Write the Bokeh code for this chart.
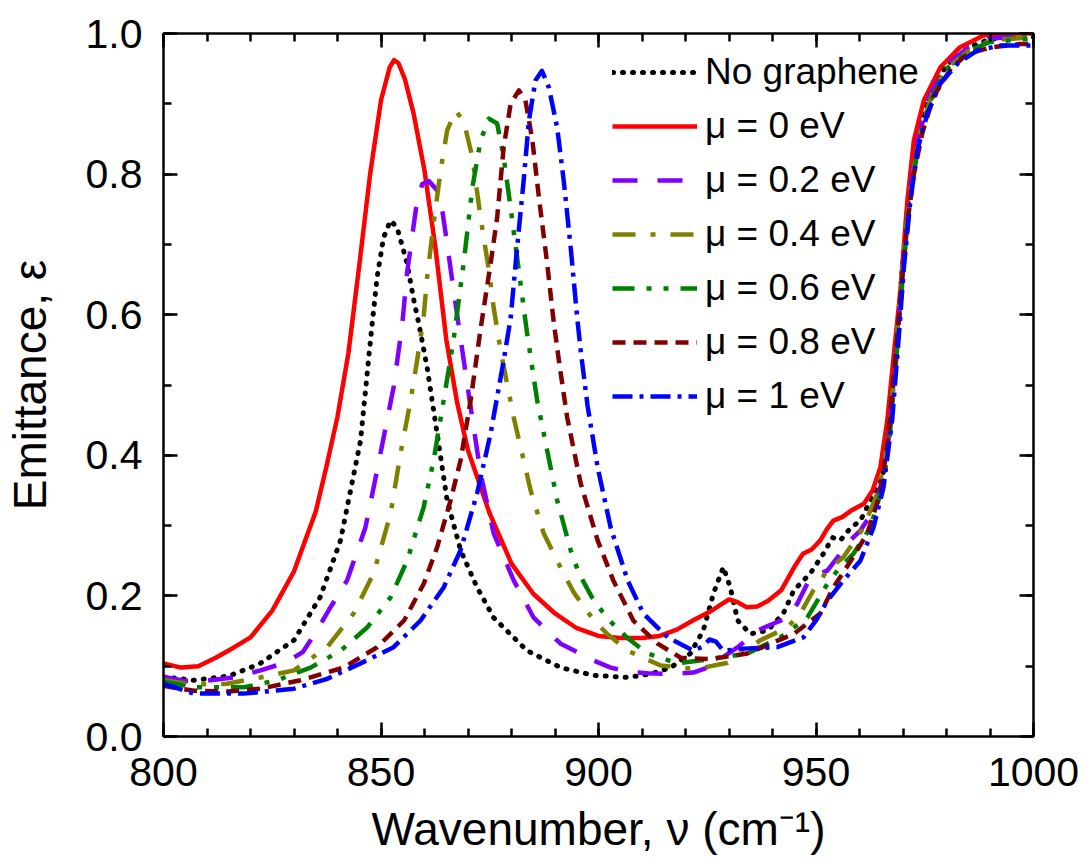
from bokeh.plotting import figure
from bokeh.models import (Range1d, LinearAxis, SingleIntervalTicker, NumeralTickFormatter,
                          Legend, LegendItem)
from bokeh.embed import file_html
from bokeh.resources import INLINE

# ---------------- data ----------------
nog_x = [800, 807, 815, 822, 830, 836, 840.7, 845.3, 847.6, 849.1, 850.6, 852.2, 853.7, 856, 857.5,
         858.7, 860.6, 862.9, 865.2, 868.3, 872.1, 875.9, 883.6, 891.3, 898.9, 906.7, 912, 916.6,
         921.1, 924.1, 926.4, 928.7, 930.3, 932, 934.9, 938.9, 942.5, 944.9, 948.7, 951.7, 953.8,
         955.6, 958, 960.2, 962.5, 965.3, 967, 968.5, 970, 971.5, 973.5, 976, 980, 985, 990, 1000]
nog_y = [.085, .080, .086, .103, .137, .198, .279, .421, .565, .653, .710, .734, .724, .673, .622,
         .587, .525, .431, .336, .265, .212, .169, .122, .098, .087, .084, .089, .098,
         .118, .151, .203, .241, .212, .165, .146, .151, .175, .208, .232, .260, .283,
         .279, .297, .307, .336, .368, .45, .56, .68, .78, .86, .91, .955, .98, .992, .995]

mu0_x = [800, 804, 808, 812, 816, 820, 825, 830, 835, 837.5, 840, 842.5, 845, 847.5, 850, 852, 853,
         854, 855.5, 857.5, 860, 862.5, 865, 867.5, 870, 875, 880, 885, 890, 895, 900, 905, 910,
         914, 918, 922, 926, 930, 932, 934, 936.5, 939, 942, 945, 947, 949, 951, 952.5, 954, 956,
         958, 961, 963, 964.8, 966.4, 968, 969.4, 971, 972.5, 974.8, 978.6, 983, 988.5, 993, 1000]
mu0_y = [.104, .098, .100, .112, .126, .141, .179, .235, .32, .385, .455, .545, .67, .80, .905, .952,
         .962, .958, .935, .886, .805, .696, .565, .475, .407, .317, .246, .203, .175, .154, .143,
         .140, .140, .143, .152, .166, .179, .195, .191, .184, .185, .193, .208, .241, .260, .266,
         .279, .295, .307, .312, .321, .331, .350, .383, .45, .55, .634, .762, .848, .905, .952,
         .980, .997, 1.0, 1.0]

mu02_x = [800, 805, 810.8, 816, 822.3, 828, 832, 835.3, 838.5, 842.2, 846.4, 848.5, 850.6, 852.9,
          854.9, 856, 858.3, 859.5, 861, 862.9, 864.1, 865.2, 866.7, 869.8, 872.9, 875.9, 880.5,
          885.1, 891.3, 898.9, 902.8, 907, 911.3, 916, 921.8, 925, 928, 932, 936.6, 940, 943.4,
          945.7, 948.7, 952.6, 955, 957.2, 960.2, 963.2, 965.5, 967, 968.5, 970, 971.5, 973.5,
          976, 980, 985, 990, 1000]
mu02_y = [.085, .079, .080, .084, .094, .105, .12, .151, .185, .222, .297, .36, .425, .497,
          .587, .66, .762, .786, .79, .777, .748, .701, .634, .502, .374, .289, .222,
          .169, .132, .108, .098, .092, .090, .089, .091, .098, .11, .127, .151, .16, .169,
          .189, .226, .236, .255, .275, .293, .321, .37, .44, .55, .67, .77, .85,
          .91, .955, .98, .993, .997]

mu04_x = [800, 807, 814.6, 822.3, 830, 837.6, 843.7, 848.3, 852.2, 854.5, 856.8, 858.3, 859.8,
          860.6, 862.1, 863.7, 865.2, 867.1, 869, 871, 872.9, 874.8, 875.9, 877.5, 880.5, 884.4,
          887.4, 891.3, 894.3, 896.6, 899, 902, 906.7, 914.3, 920.5, 925, 929.7, 933, 937.2,
          943.4, 946.4, 949.4, 952.6, 956.3, 960.9, 964.1, 966, 967.5, 969, 970.5, 972, 974,
          977, 980, 985, 990, 1000]
mu04_y = [.08, .074, .075, .084, .094, .127, .175, .232, .317, .403, .478, .535, .596,
          .653, .730, .805, .862, .890, .876, .824, .738, .663, .610, .549, .454, .350,
          .289, .24, .205, .185, .165, .146, .122, .101, .097, .099, .105, .118, .137,
          .155, .175, .208, .236, .255, .297, .346, .40, .48, .60, .71, .79, .86,
          .92, .95, .975, .99, .995]

mu06_x = [800, 807, 818.5, 826.1, 833.8, 840.7, 846.8, 852.2, 856, 859.8, 862.1, 864.4, 866.7,
          869, 871, 872.9, 874.8, 876.7, 878.2, 879.8, 881.3, 882.8, 883.6, 885.9, 888.2, 890.5,
          893.6, 895.5, 898.5, 902, 906.7, 911.3, 918.2, 925.7, 934.2, 941.8, 948, 952.6, 954.9,
          958.6, 962.5, 965.5, 967, 968.5, 970, 971.5, 973.5, 976, 980, 985, 990, 1000]
mu06_y = [.078, .070, .070, .080, .098, .122, .155, .198, .250, .326, .393, .478, .565,
          .673, .781, .848, .879, .872, .824, .752, .681, .610, .573, .478, .407, .336,
          .265, .232, .198, .168, .140, .118, .104, .110, .118, .141, .169, .217, .236,
          .260, .297, .360, .43, .54, .66, .76, .84, .90, .95, .975, .988, .993]

mu08_x = [800, 807, 815, 822.3, 831.5, 841.4, 849.1, 855.3, 859.8, 862.9, 866, 868.3, 870.6,
          872.9, 875.2, 876.7, 878.2, 879.8, 881.7, 883.2, 884.8, 886.3, 888.2, 889.7, 891,
          892.8, 895.9, 899.8, 903.4, 908, 913.6, 918.9, 925.7, 934.2, 944.9, 951, 954, 958,
          961.8, 964.8, 966.5, 968, 969.5, 971, 972.5, 974.5, 977, 981, 984.8, 990, 997, 1000]
mu08_y = [.072, .065, .064, .068, .080, .098, .127, .165, .217, .269, .336, .393, .478,
          .580, .673, .738, .838, .900, .919, .905, .848, .767, .673, .59, .53,
          .454, .360, .279, .222, .165, .132, .112, .110, .118, .146, .175, .212, .250,
          .289, .346, .42, .52, .63, .73, .80, .86, .91, .95, .971, .98, .985, .985]

mu10_x = [800, 807, 818.5, 830, 837.6, 845.3, 852.9, 859.1, 864.4, 868.3, 872.1, 875.2, 878.2,
          879.8, 881.3, 882.8, 884, 885.5, 887, 888.6, 890.5, 892, 893.6, 895.1, 895.9, 897.5,
          899.8, 902.8, 906.7, 910.3, 915.9, 921.8, 924, 925.5, 927, 928.7, 933.3, 941.1, 947.1,
          950, 952.6, 956.3, 960.2, 963.2, 965.5, 967.5, 968.8, 970.2, 971.7, 973.3, 975.6,
          978.6, 982.5, 987.1, 992.4, 1000]
mu10_y = [.075, .061, .061, .068, .082, .104, .127, .165, .212, .265, .346, .431, .535,
          .595, .696, .791, .876, .933, .947, .923, .866, .791, .696, .596, .549, .47,
          .383, .297, .222, .175, .141, .122, .128, .138, .135, .122, .125, .127, .141,
          .165, .193, .222, .250, .297, .354, .45, .55, .667, .762, .834, .886,
          .929, .957, .976, .983, .983]

series_labels = ["No graphene", "μ = 0 eV", "μ = 0.2 eV", "μ = 0.4 eV",
                 "μ = 0.6 eV", "μ = 0.8 eV", "μ = 1 eV"]
x_title = "Wavenumber, ν (cm⁻¹)"
y_title = "Emittance, ε"
x_ticks_interval = 50
y_ticks_interval = 0.2

# ---------------- figure ----------------
FONT = "Liberation Sans"
L, R, T, B = 163, 50, 33, 125
FW, FH = 870, 703
p = figure(width=L + FW + R, height=T + FH + B,
           x_range=Range1d(800, 1000), y_range=Range1d(0, 1.0),
           output_backend="svg", toolbar_location=None,
           x_axis_location=None, y_axis_location=None,
           min_border_left=L, min_border_right=R, min_border_top=T, min_border_bottom=B)
p.outline_line_color = None
p.background_fill_color = "white"
p.border_fill_color = "white"
for g in p.grid:
    g.visible = False


def style_axis(ax, show):
    ax.axis_line_width = 2.5
    ax.axis_line_color = "black"
    ax.major_tick_line_width = 2.5
    ax.minor_tick_line_width = 2.5
    ax.major_tick_in = 14
    ax.major_tick_out = 0
    ax.minor_tick_in = 8
    ax.minor_tick_out = 0
    if show:
        ax.major_label_text_font = FONT
        ax.major_label_text_font_size = "41px"
        ax.major_label_text_color = "black"
        ax.axis_label_text_font = FONT
        ax.axis_label_text_font_size = "46px"
        ax.axis_label_text_font_style = "normal"
        ax.axis_label_text_color = "black"
    else:
        ax.major_label_text_font_size = "0px"
        ax.major_label_text_color = None
        ax.major_label_standoff = 0


xb = LinearAxis(ticker=SingleIntervalTicker(interval=x_ticks_interval, num_minor_ticks=5),
                axis_label=x_title)
style_axis(xb, True)
xb.major_label_standoff = 21
xb.axis_label_standoff = 14
xt = LinearAxis(ticker=SingleIntervalTicker(interval=x_ticks_interval, num_minor_ticks=5))
style_axis(xt, False)
yl = LinearAxis(ticker=SingleIntervalTicker(interval=y_ticks_interval, num_minor_ticks=2),
                formatter=NumeralTickFormatter(format="0.0"), axis_label=y_title)
style_axis(yl, True)
yl.major_label_standoff = 21
yl.axis_label_standoff = 27
yr = LinearAxis(ticker=SingleIntervalTicker(interval=y_ticks_interval, num_minor_ticks=2))
style_axis(yr, False)
p.add_layout(xb, "below")
p.add_layout(xt, "above")
p.add_layout(yl, "left")
p.add_layout(yr, "right")

# ---------------- curves ----------------
styles = [
    (nog_x, nog_y, "black", 5, "1 9", "round"),
    (mu0_x, mu0_y, "#FF0000", 4.5, "solid", "butt"),
    (mu02_x, mu02_y, "#8000FF", 4.5, "25 20", "butt"),
    (mu04_x, mu04_y, "#808000", 4.5, "23 15 5 15", "butt"),
    (mu06_x, mu06_y, "#008000", 4.5, "22 12 5 12 5 12", "butt"),
    (mu08_x, mu08_y, "#800000", 4.5, "13 8", "butt"),
    (mu10_x, mu10_y, "#0000FF", 4.5, "20 7 4 7", "butt"),
]
items = []
for (xs, ys, col, lw, dash, cap), lab_text in zip(styles, series_labels):
    r = p.line(xs, ys, line_color=col, line_width=lw, line_dash=dash, line_cap=cap,
               line_join="round")
    items.append(LegendItem(label=lab_text, renderers=[r]))

leg = Legend(items=items, location=(449, 318), orientation="vertical")
leg.label_text_font = FONT
leg.label_text_font_size = "37px"
leg.label_text_color = "black"
leg.glyph_width = 85
leg.glyph_height = 44
leg.label_height = 44
leg.label_standoff = 8
leg.spacing = 10
leg.padding = 0
leg.margin = 0
leg.border_line_color = None
leg.background_fill_alpha = 0
p.add_layout(leg)

open("out.html", "w").write(file_html(p, INLINE))
